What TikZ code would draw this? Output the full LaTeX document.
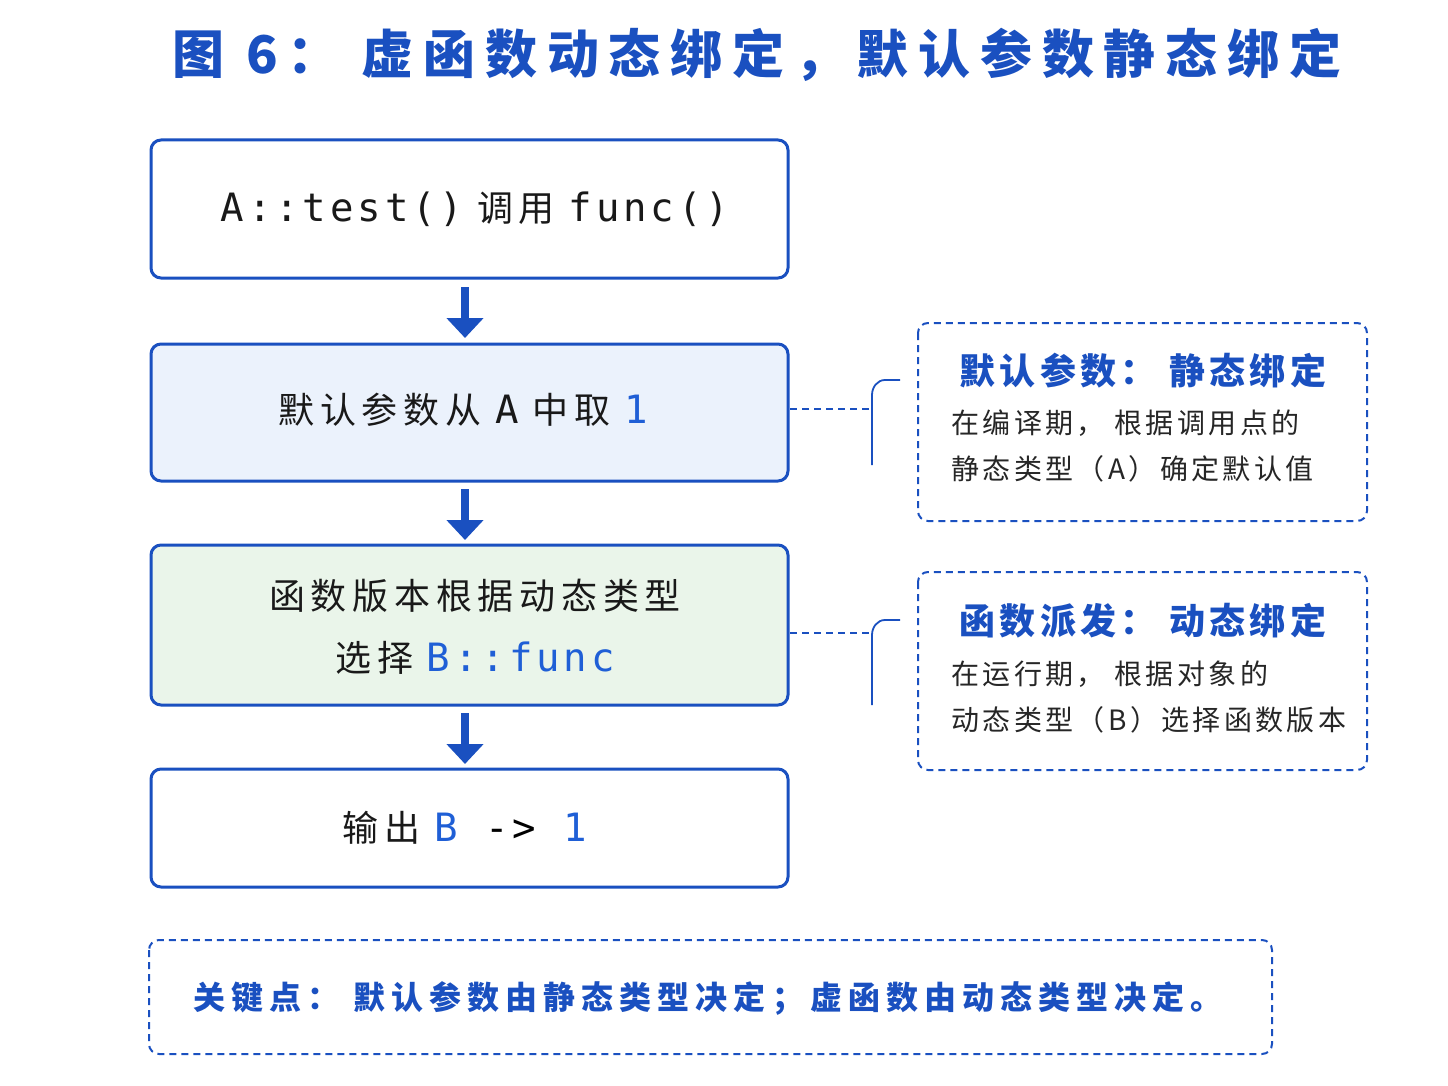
\documentclass[tikz,border=0pt]{standalone}
\usepackage{fontspec}
\setmainfont{Noto Sans CJK SC}
\newfontfamily\spc{Noto Sans CJK SC}[LetterSpace=12]
\newfontfamily\spcm{Noto Sans CJK SC}[LetterSpace=16]
\newfontfamily\spcb{Noto Sans CJK SC}[LetterSpace=19]
\newfontfamily\mono{DejaVu Sans Mono}[LetterSpace=10]
\usetikzlibrary{arrows.meta}
\definecolor{mblue}{HTML}{1A50C0}
\definecolor{tblue}{HTML}{1F5FD6}
\definecolor{lb}{HTML}{EBF2FC}
\definecolor{lg}{HTML}{EAF5EA}
\begin{document}
\begin{tikzpicture}[x=1pt,y=-1pt,
 box/.style={draw=mblue,line width=3pt,rounded corners=10pt},
 dbox/.style={draw=mblue,line width=2pt,dash pattern=on 7pt off 5pt,rounded corners=10pt},
 arr/.style={mblue,line width=8pt,-{Triangle[length=20pt,width=36pt]}},
 conn/.style={mblue,line width=1.8pt},
 txt/.style={font=\fontsize{36}{62}\spcm,align=center,text=black!90}]
\fill[white] (0,0) rectangle (1448,1086);
\node[font=\fontsize{52}{60}\spcb\bfseries,text=mblue] (title) at (757,55) {图 6： 虚函数动态绑定，默认参数静态绑定};
\draw[box,fill=white] (151,140) rectangle (788,278);
\node[txt] (b1) at (475,209) {{\fontsize{39}{46}\mono A::test()} 调用 {\fontsize{39}{46}\mono func()}};
\draw[box,fill=lb] (151,344) rectangle (788,481);
\node[txt] (b2) at (463,410) {默认参数从 {\fontsize{39}{46}\mono A} 中取 {\fontsize{39}{46}\mono\color{tblue}1}};
\draw[box,fill=lg] (151,545) rectangle (788,705);
\node[txt] (b3) at (475,627) {函数版本根据动态类型\\选择 {\fontsize{39}{46}\mono\color{tblue}B::func}};
\draw[box,fill=white] (151,769) rectangle (788,887);
\node[txt] (b4) at (465,828) {输出 {\fontsize{39}{46}\mono\color{tblue}B {\color{black}->} 1}};
\coordinate (a1s) at (465,287); \coordinate (a1e) at (465,338);
\coordinate (a2s) at (465,489); \coordinate (a2e) at (465,540);
\coordinate (a3s) at (465,713); \coordinate (a3e) at (465,764);
\draw[arr] (a1s) -- (a1e);
\draw[arr] (a2s) -- (a2e);
\draw[arr] (a3s) -- (a3e);
\draw[dbox] (918,323) rectangle (1367,521);
\node[font=\fontsize{36}{40}\spc\bfseries,text=mblue,anchor=west] (s1t) at (956,371) {默认参数： 静态绑定};
\node[font=\fontsize{28}{46}\spc,text=black!85,anchor=north west,align=left] (s1b) at (948,406) {在编译期， 根据调用点的\\静态类型（A）确定默认值};
\draw[dbox] (918,572) rectangle (1367,770);
\node[font=\fontsize{36}{40}\spc\bfseries,text=mblue,anchor=west] (s2t) at (956,621) {函数派发： 动态绑定};
\node[font=\fontsize{28}{46}\spc,text=black!85,anchor=north west,align=left] (s2b) at (948,657) {在运行期， 根据对象的\\动态类型（B）选择函数版本};
\coordinate (c1a) at (790,409); \coordinate (c1b) at (872,409);
\coordinate (c1t) at (900,380); \coordinate (c1d) at (872,465);
\draw[conn,dash pattern=on 7pt off 5pt] (c1a) -- (c1b);
\draw[conn] (c1t) -- (885,380) to[out=180,in=90] (872,395) -- (c1d);
\coordinate (c2a) at (790,633); \coordinate (c2b) at (872,633);
\coordinate (c2t) at (900,620); \coordinate (c2d) at (872,705);
\draw[conn,dash pattern=on 7pt off 5pt] (c2a) -- (c2b);
\draw[conn] (c2t) -- (885,620) to[out=180,in=90] (872,635) -- (c2d);
\draw[dbox] (149,940) rectangle (1272,1054);
\node[font=\fontsize{32}{40}\spcb\bfseries,text=mblue,anchor=west] (key) at (190,998) {关键点： 默认参数由静态类型决定；虚函数由动态类型决定。};
\end{tikzpicture}
\end{document}
